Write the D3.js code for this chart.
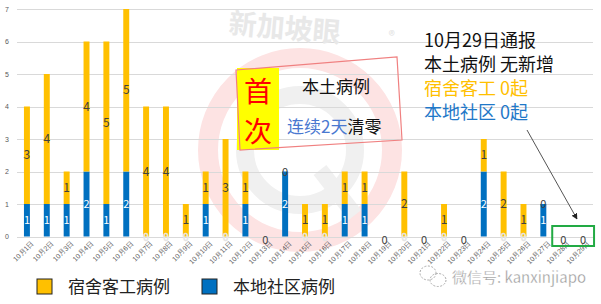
<!DOCTYPE html>
<html>
<head>
<meta charset="utf-8">
<script src="https://cdn.jsdelivr.net/npm/d3@7"></script>
<style>
  body { margin: 0; background: #fff; }
  svg { display: block; font-family: "Noto Sans CJK SC", "Noto Sans", sans-serif; }
</style>
</head>
<body>
<div class="container"></div>
<script>
const width = 601;
const height = 304;
const margin = { top: 9, bottom: 67, left: 17, right: 8 }

// data
const days = ["10月1日","10月2日","10月3日","10月4日","10月5日","10月6日","10月7日","10月8日","10月9日","10月10日",
  "10月11日","10月12日","10月13日","10月14日","10月15日","10月16日","10月17日","10月18日","10月19日","10月20日",
  "10月21日","10月22日","10月23日","10月24日","10月25日","10月26日","10月27日","10月28日","10月29日"]
const dorm  = [3,4,1,4,5,5,4,4,1,1,3,1,0,0,1,1,1,1,0,2,0,1,0,1,2,1,0,0,0]
const local = [1,1,1,2,1,2,0,0,0,1,0,1,0,2,0,0,1,1,0,0,0,0,0,2,0,0,1,0,0]
const yTicks = [0,1,2,3,4,5,6,7]
const seriesNames = ["宿舍客工病例", "本地社区病例"]

const yellow = "#FFC000"
const blue = "#0070C0"

const dataset = days.map((d, i) => ({ day: d, dorm: dorm[i], local: local[i] }))

const svg = d3.select(".container")
  .append("svg")
  .attr("width", width)
  .attr("height", height)

const xScale = d3.scaleBand()
  .domain(days)
  .range([margin.left, width - margin.right])
  .paddingInner(0.7)
  .paddingOuter(0.35)

const yScale = d3.scaleLinear()
  .domain([0, 7])
  .range([height - margin.bottom - 0.5, margin.top])

const cx = d => xScale(d.day) + xScale.bandwidth() / 2

// watermark logo behind everything
const wm = svg.append("g")
wm.append("circle").attr("cx", 300).attr("cy", 150).attr("r", 92)
  .attr("fill", "none").attr("stroke", "#fde3e3").attr("stroke-width", 20)
wm.append("circle").attr("cx", 300).attr("cy", 150).attr("r", 55)
  .attr("fill", "none").attr("stroke", "#f0f0f0").attr("stroke-width", 18)
wm.append("line").attr("x1", 320).attr("y1", 170).attr("x2", 355).attr("y2", 215)
  .attr("stroke", "#f0f0f0").attr("stroke-width", 16)

// grid
svg.append("g")
  .selectAll("line")
  .data(yTicks)
  .join("line")
  .attr("x1", margin.left)
  .attr("x2", width - margin.right)
  .attr("y1", d => Math.round(yScale(d)) + 0.5)
  .attr("y2", d => Math.round(yScale(d)) + 0.5)
  .attr("stroke", "#d9d9d9")
  .attr("stroke-width", 1)

// y axis
const yAxis = d3.axisLeft(yScale).tickValues(yTicks).tickFormat(d3.format("d")).tickSize(0).tickPadding(6)
svg.append("g")
  .attr("transform", `translate(${margin.left - 2}, 0)`)
  .call(yAxis)
  .call(g => g.select(".domain").remove())
  .selectAll("text")
  .attr("font-size", "7px")
  .attr("fill", "#595959")

// x axis
const xAxis = d3.axisBottom(xScale).tickSize(0).tickPadding(5)
svg.append("g")
  .attr("transform", `translate(0, ${yScale(0)})`)
  .call(xAxis)
  .call(g => g.select(".domain").remove())
  .selectAll("text")
  .attr("font-size", "7px")
  .attr("fill", "#595959")
  .attr("text-anchor", "end")
  .attr("dx", "3px")
  .attr("dy", "4px")
  .attr("transform", "rotate(-45)")
  .style("transform-box", "fill-box")
  .style("transform-origin", "100% 0")

// bars
svg.append("g")
  .selectAll("rect")
  .data(dataset)
  .join("rect")
  .attr("x", d => xScale(d.day))
  .attr("width", xScale.bandwidth())
  .attr("y", d => yScale(d.local))
  .attr("height", d => yScale(0) - yScale(d.local))
  .attr("fill", blue)

svg.append("g")
  .selectAll("rect")
  .data(dataset)
  .join("rect")
  .attr("x", d => xScale(d.day))
  .attr("width", xScale.bandwidth())
  .attr("y", d => yScale(d.local + d.dorm))
  .attr("height", d => yScale(d.local) - yScale(d.local + d.dorm))
  .attr("fill", yellow)

// value labels
const labels = svg.append("g").attr("text-anchor", "middle")

labels.selectAll(".lab-local")
  .data(dataset.filter(d => d.local > 0))
  .join("text")
  .attr("x", cx)
  .attr("y", d => yScale(d.local / 2) + 4)
  .attr("font-size", "11px")
  .attr("fill", "#fff")
  .text(d => d.local)

labels.selectAll(".lab-dorm")
  .data(dataset.filter(d => d.dorm > 0))
  .join("text")
  .attr("x", cx)
  .attr("y", d => yScale(d.local + d.dorm / 2) + 4)
  .attr("font-size", "12px")
  .attr("fill", "#404040")
  .text(d => d.dorm)

// zero local under yellow bars (faint)
labels.selectAll(".lab-zero-local")
  .data(dataset.filter(d => d.local === 0 && d.dorm > 0))
  .join("text")
  .attr("x", cx)
  .attr("y", yScale(0) + 4)
  .attr("font-size", "10px")
  .attr("fill", "#fff")
  .attr("stroke", "#e0e0e0")
  .attr("stroke-width", 0.6)
  .text("0")

// zero dorm on top of blue bars
labels.selectAll(".lab-zero-dorm")
  .data(dataset.filter(d => d.dorm === 0 && d.local > 0))
  .join("text")
  .attr("x", cx)
  .attr("y", d => yScale(d.local) + 4)
  .attr("font-size", "11px")
  .attr("fill", "#404040")
  .text("0")

// days with nothing
labels.selectAll(".lab-zero-all")
  .data(dataset.filter(d => d.dorm === 0 && d.local === 0))
  .join("text")
  .attr("x", cx)
  .attr("y", yScale(0) + 7)
  .attr("font-size", "11px")
  .attr("fill", "#404040")
  .text("0")

// 新加坡眼 watermark
svg.append("text")
  .attr("transform", "translate(228, 33) rotate(5)")
  .attr("font-size", "28px")
  .attr("font-weight", "bold")
  .attr("fill", "#e8e8e8")
  .text("新加坡眼")
svg.append("text")
  .attr("transform", "translate(388, 40) rotate(5)")
  .attr("font-size", "13px")
  .attr("fill", "#e2e2e2")
  .text("®")

// annotation box
const note = svg.append("g")
note.append("rect")
  .attr("x", 237).attr("y", 68).attr("width", 42).attr("height", 82)
  .attr("fill", "#ffff00")
note.append("polygon")
  .attr("points", "236,70 397,57 402,140 240,150")
  .attr("fill", "none").attr("stroke", "#f08080").attr("stroke-width", 1.2)
note.append("text").attr("x", 258).attr("y", 102).attr("text-anchor", "middle")
  .attr("font-size", "28px").attr("fill", "#ff0000").text("首")
note.append("text").attr("x", 258).attr("y", 142).attr("text-anchor", "middle")
  .attr("font-size", "28px").attr("fill", "#ff0000").text("次")
note.append("text").attr("x", 336).attr("y", 93).attr("text-anchor", "middle")
  .attr("font-size", "17px").attr("fill", "#111").text("本土病例")
const t2 = note.append("text").attr("x", 287).attr("y", 133).attr("font-size", "17px")
t2.append("tspan").attr("fill", "#4a78d0").text("连续2天")
t2.append("tspan").attr("fill", "#111").text("清零")

// right side summary
const summary = [
  { t: "10月29日通报", c: "#111" },
  { t: "本土病例 无新增", c: "#111" },
  { t: "宿舍客工 0起", c: yellow },
  { t: "本地社区 0起", c: "#1f78c8" }
]
svg.append("g")
  .selectAll("text")
  .data(summary)
  .join("text")
  .attr("x", 424)
  .attr("y", (d, i) => 47 + i * 24)
  .attr("font-size", "18px")
  .attr("fill", d => d.c)
  .text(d => d.t)

// arrow + green box
svg.append("defs").append("marker")
  .attr("id", "arr").attr("viewBox", "0 0 10 10")
  .attr("refX", 9).attr("refY", 5)
  .attr("markerWidth", 6).attr("markerHeight", 6)
  .attr("orient", "auto")
  .append("path").attr("d", "M0,0L10,5L0,10z").attr("fill", "#222")
svg.append("line")
  .attr("x1", 527).attr("y1", 130).attr("x2", 577).attr("y2", 219)
  .attr("stroke", "#555").attr("stroke-width", 1)
  .attr("marker-end", "url(#arr)")
svg.append("rect")
  .attr("x", xScale(days[27]) - 8).attr("y", 226)
  .attr("width", xScale(days[28]) + xScale.bandwidth() + 8 - (xScale(days[27]) - 8)).attr("height", 20)
  .attr("fill", "none").attr("stroke", "#22aa44").attr("stroke-width", 2)

// legend
const legend = svg.append("g")
  .selectAll("g")
  .data(seriesNames)
  .join("g")
  .attr("transform", (d, i) => `translate(${37 + i * 165}, 279)`)
legend.append("rect")
  .attr("width", 15).attr("height", 15)
  .attr("fill", (d, i) => i === 0 ? yellow : blue)
  .attr("stroke", "#222").attr("stroke-width", 1)
legend.append("text")
  .attr("x", 31).attr("y", 14)
  .attr("font-size", "17px")
  .attr("fill", "#222")
  .text(d => d)

// wechat watermark
const wx = svg.append("g").attr("fill", "none").attr("stroke", "#aaa").attr("stroke-width", 1)
wx.append("ellipse").attr("cx", 428).attr("cy", 273).attr("rx", 8).attr("ry", 7).attr("stroke-dasharray", "2,1.5")
wx.append("ellipse").attr("cx", 438).attr("cy", 280).attr("rx", 8).attr("ry", 6.5).attr("stroke-dasharray", "2,1.5")
svg.append("text")
  .attr("x", 452).attr("y", 283)
  .attr("font-size", "15px")
  .attr("fill", "#9a9a9a")
  .attr("stroke", "#fff").attr("stroke-width", 0.3)
  .text("微信号: kanxinjiapo")
</script>
</body>
</html>
